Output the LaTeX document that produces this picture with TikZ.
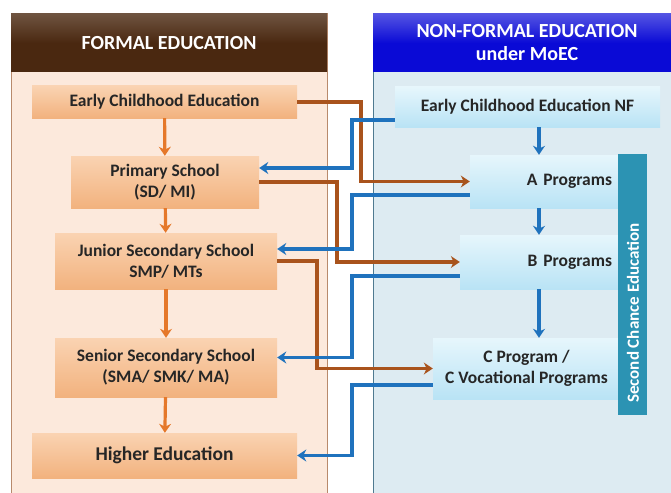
\documentclass[tikz,border=0pt]{standalone}
\usepackage{fontspec}
\setmainfont{Carlito}
\usetikzlibrary{arrows.meta}
\definecolor{fhead}{HTML}{4A2810}
\definecolor{fbody}{HTML}{FCE9DC}
\definecolor{fline}{HTML}{B88A6C}
\definecolor{nhead}{HTML}{0A0AD6}
\definecolor{nbody}{HTML}{DDEBF2}
\definecolor{nline}{HTML}{4F7A90}
\definecolor{ftop}{HTML}{FAD3B2}
\definecolor{fbot}{HTML}{F2B27E}
\definecolor{ntop}{HTML}{E6F6FC}
\definecolor{nbot}{HTML}{B9E3F5}
\definecolor{orangearr}{HTML}{E5782A}
\definecolor{brownarr}{HTML}{A9531C}
\definecolor{bluearr}{HTML}{1F72BD}
\definecolor{chance}{HTML}{2C93B3}
\tikzset{
    fstage/.style={shading=axis, top color=ftop, bottom color=fbot, draw=none,
        font=\bfseries\fontsize{17.5}{21}\selectfont, text=black!85, align=center},
    nstage/.style={shading=axis, top color=ntop, bottom color=nbot, draw=none,
        font=\bfseries\fontsize{17.5}{21}\selectfont, text=black!85, align=center},
    down/.style={line width=3.2pt, orangearr, -{Stealth[length=9pt,width=12pt]}},
    ndown/.style={line width=3.2pt, bluearr, -{Stealth[length=9pt,width=12pt]}},
    crossb/.style={line width=3.2pt, brownarr, -{Stealth[length=9pt,width=12pt]}},
    crossn/.style={line width=3.2pt, bluearr, -{Stealth[length=9pt,width=12pt]}},
}
\begin{document}
\begin{tikzpicture}[x=1pt, y=-1pt]
    \useasboundingbox (0, 0) rectangle (671, 492);
    % panels
    \filldraw[fill=fbody, draw=fline, line width=1pt] (11, 14) rectangle (327, 496);
    \filldraw[fill=nbody, draw=nline, line width=1pt] (373, 14) rectangle (675, 496);
    \shade[top color=fhead!80!white, bottom color=fhead, middle color=fhead] (11, 14) rectangle (327, 72);
    \shade[top color=nhead!70!white, bottom color=nhead, middle color=nhead] (373, 14) rectangle (675, 72);
    \node[text=white, font=\bfseries\fontsize{20}{23}\selectfont] (fhd) at (169, 43) {FORMAL EDUCATION};
    \node[text=white, font=\bfseries\fontsize{20}{23}\selectfont, align=center] (nhd) at (527, 43) {NON-FORMAL EDUCATION\\under MoEC};

    % formal stages
    \node[fstage, minimum width=265, minimum height=32] (ece) at (164.5, 102) {Early Childhood Education};
    \node[fstage, minimum width=188, minimum height=52] (prim) at (165, 182) {Primary School\\(SD/ MI)};
    \node[fstage, minimum width=222, minimum height=56] (jun) at (166, 261) {Junior Secondary School\\SMP/ MTs};
    \node[fstage, minimum width=222, minimum height=59] (sen) at (166, 367.5) {Senior Secondary School\\(SMA/ SMK/ MA)};
    \node[fstage, minimum width=265, minimum height=45, font=\bfseries\fontsize{19.5}{22}\selectfont] (high) at (164.5, 455.5) {Higher Education};

    % non-formal stages
    \node[nstage, minimum width=265, minimum height=40] (ecenf) at (527.5, 107) {Early Childhood Education NF};
    \node[nstage, text width=134, inner xsep=8, minimum height=53, align=right] (apr) at (545, 181.5) {A Programs};
    \node[nstage, text width=144, inner xsep=8, minimum height=54, align=right] (bpr) at (540, 262) {B Programs};
    \node[nstage, minimum width=187, minimum height=61] (cpr) at (526.5, 368.5) {C Program /\\C Vocational Programs};
    \node[fill=chance, minimum width=29, minimum height=261] (sce) at (632.5, 284.5) {};
    \node[text=white, rotate=90, font=\bfseries\fontsize{17}{19}\selectfont] (scetxt) at (633, 313) {Second Chance Education};

    % columns of the crossing lines
    \coordinate (xb1) at (361, 0);
    \coordinate (xb2) at (337, 0);
    \coordinate (xb3) at (317, 0);
    \coordinate (xn) at (352, 0);
    \coordinate (ncol) at (539, 0);

    % steps down
    \draw[down] (ece) -- (prim);
    \draw[down] (prim) -- (jun);
    \draw[down] (jun) -- (sen);
    \draw[down] (sen) -- (high);
    \draw[ndown] (ecenf.south -| ncol) -- (apr.north -| ncol);
    \draw[ndown] (apr.south -| ncol) -- (bpr.north -| ncol);
    \draw[ndown] (bpr.south -| ncol) -- (cpr.north -| ncol);

    % formal to non-formal
    \draw[crossb] (ece.east) -- (ece.east -| xb1) |- (apr.west);
    \draw[crossb] (prim.east) -- (prim.east -| xb2) |- (bpr.west);
    \draw[crossb] (jun.east) -- (jun.east -| xb3) |- (cpr.west);

    % non-formal back to formal
    \draw[crossn] ([yshift=-13pt]ecenf.west) -- ([yshift=-13pt]ecenf.west -| xn) |- ([yshift=14pt]prim.east);
    \draw[crossn] ([yshift=-13.5pt]apr.west) -- ([yshift=-13.5pt]apr.west -| xn) |- ([yshift=12pt]jun.east);
    \draw[crossn] ([yshift=-14pt]bpr.west) -- ([yshift=-14pt]bpr.west -| xn) |- ([yshift=10pt]sen.east);
    \draw[crossn] ([yshift=-16.5pt]cpr.west) -- ([yshift=-16.5pt]cpr.west -| xn) |- (high.east);
\end{tikzpicture}
\end{document}
